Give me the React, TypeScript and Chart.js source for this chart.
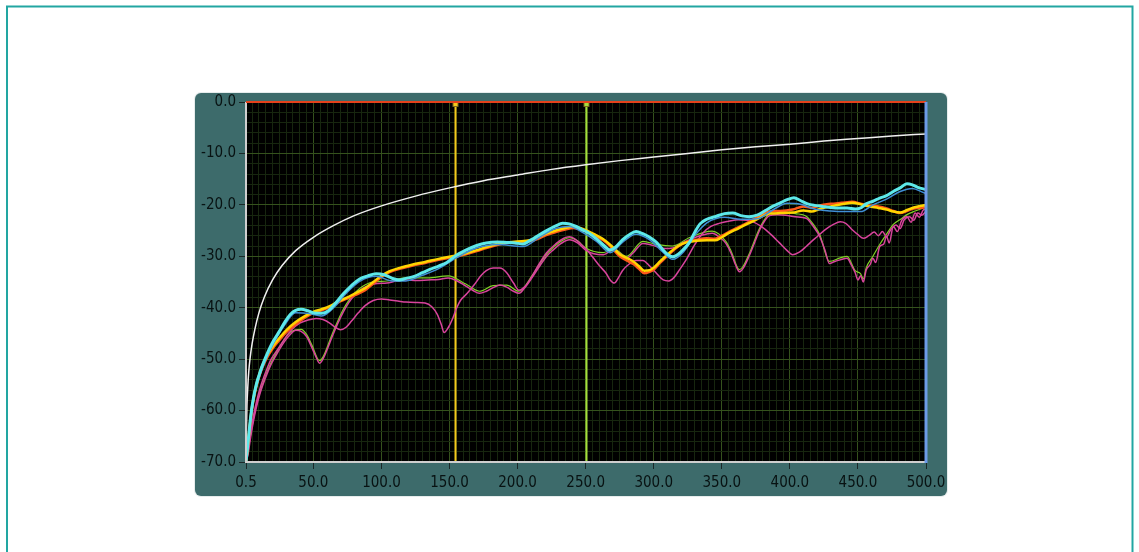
import { useEffect, useRef } from "react";
import { Chart, registerables } from "chart.js";

Chart.register(...registerables);

type Pt = [number, number];

const X_LABELS = [0.5, 50, 100, 150, 200, 250, 300, 350, 400, 450, 500];
const Y_LABELS = [0, -10, -20, -30, -40, -50, -60, -70];
const X_MIN = 0.5;
const X_MAX = 500;
const Y_MIN = -70;
const Y_MAX = 0;
const X_MINOR_STEP = 5;
const Y_MINOR_STEP = 2;
const CURSOR_YELLOW = 154;
const CURSOR_GREEN = 250;

const whiteTrace: Pt[] = [[0.5,-70],[0.8,-64],[1.2,-59],[1.8,-55.5],[2.5,-52.5],[3.5,-49.8],[5,-47],[7,-44.2],[10,-41],[14,-37.9],[20,-34.6],[27,-31.8],[37,-28.9],[50,-26.3],[65,-24],[80,-22.1],[100,-20.2],[125,-18.3],[150,-16.7],[175,-15.3],[200,-14.2],[225,-13.1],[250,-12.2],[275,-11.4],[300,-10.7],[325,-10],[350,-9.3],[375,-8.7],[400,-8.2],[425,-7.6],[450,-7.1],[475,-6.6],[500,-6.2]];

const cyanTrace: Pt[] = [[0.5,-70],[1.5,-67.5],[3,-63.5],[4.5,-60],[6,-57.5],[8,-55],[10,-53.2],[12,-51.6],[15,-49.6],[18,-47.8],[21,-46.3],[25,-44.6],[29,-42.8],[33,-41.3],[37,-40.5],[41,-40.3],[46,-40.6],[50,-41],[56,-41.1],[61,-40.6],[66,-39.2],[72,-37.3],[78,-35.7],[84,-34.4],[90,-33.8],[96,-33.4],[102,-33.6],[108,-34.3],[113,-34.6],[118,-34.3],[124,-33.9],[130,-33.2],[136,-32.5],[142,-31.9],[148,-31.2],[155,-29.8],[162,-28.8],[170,-27.9],[177,-27.4],[185,-27.2],[192,-27.3],[198,-27.4],[204,-27.6],[210,-26.8],[216,-25.8],[222,-24.9],[228,-24.1],[233,-23.6],[238,-23.7],[243,-24.2],[248,-24.9],[253,-25.6],[258,-26.6],[263,-27.8],[268,-28.8],[272,-28.2],[277,-26.8],[282,-25.8],[287,-25.2],[292,-25.6],[297,-26.3],[302,-27.3],[306,-28.5],[310,-29.6],[314,-30.1],[318,-29.6],[322,-28.6],[326,-27.4],[330,-25.4],[334,-23.7],[339,-22.8],[345,-22.3],[352,-21.7],[358,-21.6],[364,-22.1],[370,-22.3],[376,-22],[382,-21.1],[388,-20.2],[393,-19.6],[398,-19],[403,-18.6],[408,-19.2],[413,-19.8],[418,-20.1],[424,-20.3],[430,-20.5],[436,-20.6],[442,-20.6],[448,-20.8],[452,-20.6],[456,-19.8],[461,-19.3],[466,-18.7],[471,-18.2],[476,-17.4],[481,-16.7],[486,-15.9],[490,-16.1],[494,-16.6],[498,-16.9],[500,-17]];

const blueTrace: Pt[] = [[0.5,-70],[3,-64],[6,-58],[10,-53.7],[15,-50.1],[21,-46.8],[29,-43.3],[37,-41],[46,-41.1],[56,-41.6],[66,-39.7],[72,-37.8],[84,-34.9],[96,-33.9],[108,-34.8],[118,-34.8],[130,-33.7],[142,-32.4],[155,-30.3],[170,-28.4],[185,-27.7],[204,-28.1],[216,-26.3],[228,-24.6],[238,-24.2],[248,-25.4],[258,-27.1],[268,-29.3],[277,-27.3],[287,-25.7],[297,-26.8],[306,-29],[314,-30.6],[322,-29.1],[330,-26],[339,-23.5],[352,-22.4],[364,-22.8],[376,-22.7],[388,-20.9],[398,-19.7],[408,-19.9],[418,-20.8],[430,-21.2],[442,-21.3],[452,-21.3],[461,-20],[471,-18.9],[481,-17.4],[490,-16.8],[498,-17.6],[500,-17.8]];

const orangeTrace: Pt[] = [[0.5,-70],[1.5,-68],[3,-64],[4.5,-60.5],[6,-58],[8,-55.5],[10,-53.6],[12,-52],[15,-50.2],[18,-48.8],[21,-47.6],[25,-46.3],[30,-44.8],[37,-43.2],[44,-41.9],[50,-41],[56,-40.5],[62,-39.9],[68,-39],[74,-38.3],[80,-37.6],[88,-36.6],[94,-35.3],[100,-34],[106,-33.1],[114,-32.4],[123,-31.8],[132,-31.3],[142,-30.7],[152,-30.2],[162,-29.6],[170,-29],[177,-28.4],[185,-27.8],[192,-27.4],[200,-27.2],[209,-27.1],[215,-26.6],[221,-25.9],[228,-25.3],[235,-24.8],[241,-24.5],[246,-24.8],[251,-25.2],[257,-26],[263,-26.9],[269,-28.3],[275,-30],[280,-30.8],[285,-31.5],[289,-32.4],[293,-33.3],[297,-33],[300,-32.6],[305,-31.2],[312,-29.4],[318,-28.1],[324,-27.2],[331,-26.8],[339,-26.5],[345,-26.6],[350,-26],[355,-25.3],[362,-24.4],[368,-23.6],[375,-22.6],[385,-21.3],[393,-21.2],[402,-20.9],[410,-20.3],[416,-20.6],[422,-20.1],[430,-19.8],[438,-19.6],[446,-19.4],[452,-19.8],[458,-20.1],[465,-20.3],[471,-20.7],[476,-21.2],[481,-21.6],[486,-21.2],[491,-20.7],[496,-20.6],[500,-20.4]];

const yellowTrace: Pt[] = [[0.5,-70],[1.5,-67.6],[3,-63.6],[4.5,-60.1],[6,-57.6],[8,-55.1],[10,-53.2],[12,-51.6],[15,-49.8],[18,-48.4],[21,-47.2],[25,-45.9],[30,-44.4],[37,-42.8],[44,-41.6],[50,-40.8],[56,-40.3],[62,-39.7],[68,-38.8],[74,-38.1],[80,-37.3],[88,-36.2],[94,-35],[100,-33.8],[106,-32.9],[114,-32.2],[123,-31.6],[132,-31.1],[142,-30.5],[152,-30],[162,-29.4],[170,-28.8],[177,-28.2],[185,-27.6],[192,-27.3],[200,-27.1],[209,-26.9],[215,-26.3],[221,-25.6],[228,-25],[235,-24.5],[241,-24.2],[246,-24.5],[251,-25],[257,-25.8],[263,-26.7],[269,-28],[275,-29.6],[280,-30.3],[285,-31],[289,-31.9],[293,-32.8],[297,-32.7],[300,-32.2],[305,-30.9],[312,-29.2],[318,-28],[324,-27.3],[331,-27],[339,-26.9],[345,-26.9],[350,-26.3],[355,-25.5],[362,-24.6],[368,-23.8],[375,-22.9],[385,-21.7],[393,-21.6],[402,-21.5],[410,-21.1],[416,-21.3],[422,-20.8],[430,-20.3],[438,-19.9],[446,-19.6],[452,-19.9],[458,-20.3],[465,-20.6],[471,-20.9],[476,-21.3],[481,-21.5],[486,-21],[491,-20.5],[496,-20.2],[500,-20]];

const magentaATrace: Pt[] = [[0.5,-70],[2,-68],[4,-64],[6,-61],[8,-58.5],[11,-55.5],[15,-52.5],[19,-50],[24,-48],[29,-46],[34,-44.3],[40,-43],[46,-42.4],[52,-42.1],[57,-42.3],[62,-43],[66,-43.8],[70,-44.3],[74,-43.8],[78,-42.6],[83,-41],[88,-39.6],[94,-38.6],[100,-38.3],[106,-38.5],[112,-38.7],[118,-38.9],[125,-39],[132,-39.1],[137,-39.8],[141,-41.3],[144,-43.3],[146,-44.8],[149,-43.9],[152,-42.3],[155,-40.2],[158,-38.6],[163,-37.2],[168,-35.6],[173,-33.8],[177,-32.8],[182,-32.3],[187,-32.3],[192,-33.2],[197,-35.2],[201,-36.6],[205,-36],[209,-34.6],[214,-32.3],[221,-29.4],[228,-27.6],[234,-26.5],[238,-26.2],[242,-26.6],[246,-27.5],[251,-28.8],[255,-30.1],[260,-31.8],[265,-33.3],[268,-34.6],[271,-35.2],[274,-34.2],[277,-32.8],[282,-31.5],[287,-30.8],[292,-30.8],[297,-31.9],[302,-33.3],[307,-34.6],[311,-34.8],[315,-34.1],[319,-32.6],[324,-30.6],[330,-27.8],[336,-25.5],[342,-24.2],[348,-23.6],[355,-23.2],[362,-22.9],[368,-23],[373,-23.3],[379,-24.2],[385,-25.5],[392,-27.3],[398,-28.9],[402,-29.7],[407,-29.2],[412,-28.1],[416,-27.1],[420,-26.2],[426,-24.8],[432,-23.8],[437,-23.3],[441,-23.6],[446,-24.9],[450,-25.8],[454,-26.5],[458,-26],[462,-25.3],[465,-26],[468,-25.2],[471,-26.2],[474,-24.9],[478,-23.9],[481,-24.6],[484,-22.9],[488,-22.3],[491,-23],[494,-21.6],[497,-22],[500,-21.2]];

const magentaBTrace: Pt[] = [[0.5,-70],[2,-68.5],[4,-65],[6,-62],[8,-59.5],[11,-56.5],[15,-53.5],[19,-51],[24,-48.6],[29,-46.5],[33,-45.2],[37,-44.4],[41,-44.6],[45,-45.6],[49,-47.8],[52,-49.6],[54.5,-50.8],[57,-50],[60,-48.2],[64,-45.5],[68,-43],[72,-40.8],[76,-39],[81,-37.4],[86,-36.3],[91,-35.6],[97,-35.3],[104,-35.2],[111,-34.8],[118,-34.6],[126,-34.7],[134,-34.6],[142,-34.5],[149,-34.2],[155,-34.7],[162,-35.8],[167,-36.6],[172,-37.2],[177,-36.8],[182,-36.1],[187,-35.6],[192,-36],[197,-36.8],[201,-37.2],[205,-36.2],[211,-34],[217,-31.6],[222,-29.8],[226,-28.8],[232,-27.5],[238,-26.8],[244,-27.4],[250,-28.8],[256,-29.5],[263,-29.7],[270,-28.8],[275,-29.4],[280,-30.4],[285,-29.3],[292,-27.5],[297,-27.7],[302,-28.1],[308,-28.5],[314,-28.4],[320,-27.6],[326,-26.8],[334,-26],[343,-25.5],[348,-26.2],[353,-27.5],[357,-29.5],[360,-31.6],[363,-33],[366,-32.2],[370,-30],[374,-27.4],[378,-24.8],[382,-22.9],[385,-22.1],[391,-21.9],[397,-22],[404,-22.3],[412,-22.6],[417,-24.1],[422,-26.2],[426,-29],[429,-31.4],[433,-31],[437,-30.7],[442,-30.4],[445,-31.6],[448,-33.2],[450,-34.6],[452,-33.8],[454,-35],[456,-32.7],[459,-31.6],[461,-30.4],[463,-31.2],[466,-28.1],[469,-27.6],[471,-26.1],[473,-27.4],[476,-24.2],[479,-25.2],[482,-23.1],[486,-22.3],[489,-23.4],[492,-21.6],[495,-22.4],[498,-21],[500,-20.8]];

const greenTrace: Pt[] = [[0.5,-70],[4,-64.6],[8,-59.1],[15,-53.1],[24,-48.2],[33,-44.8],[41,-44.2],[45,-45.2],[49,-47.3],[54.5,-50.3],[57,-49.6],[64,-45],[72,-40.3],[81,-37],[91,-35.2],[104,-34.8],[118,-34.2],[134,-34.2],[149,-33.8],[162,-35.4],[172,-36.8],[182,-35.7],[192,-35.6],[201,-36.8],[211,-33.6],[222,-29.4],[232,-27.1],[238,-26.4],[244,-27],[250,-28.4],[263,-29.3],[270,-28.4],[280,-30],[292,-27.1],[302,-27.7],[314,-28],[326,-26.4],[343,-25.1],[353,-27.1],[357,-29.1],[363,-32.6],[366,-31.8],[370,-29.6],[378,-24.4],[385,-21.7],[391,-21.2],[397,-21.4],[404,-21.7],[412,-22.2],[417,-23.7],[422,-25.8],[429,-31],[437,-30.3],[442,-30],[448,-32.8],[452,-33.4],[454,-34.4],[456,-32.3],[461,-30],[466,-27.7],[471,-25.7],[476,-23.8],[482,-22.7],[486,-21.9],[492,-21.2],[498,-20.6],[500,-20.4]];

const MAJOR_GRID = "#35521d";
const MINOR_GRID = "#17260f";
const LABEL_COLOR = "#081212";
const FONT = { family: "'DejaVu Sans Condensed', 'Liberation Sans', sans-serif", size: 15 };

const toXY = (pts: Pt[]) => pts.map(([x, y]) => ({ x, y }));

const isXLabel = (v: number) => X_LABELS.includes(v);
const isYLabel = (v: number) => Y_LABELS.includes(v);

const framePlugin = {
  id: "labviewFrame",
  beforeDraw(chart: any) {
    const { ctx, chartArea } = chart;
    ctx.save();
    ctx.fillStyle = "#ffffff";
    ctx.fillRect(0, 0, chart.width, chart.height);
    ctx.strokeStyle = "#22a6a2";
    ctx.lineWidth = 2;
    ctx.strokeRect(7, 6.5, 1125.5, 600);
    ctx.fillStyle = "#e6ecec";
    ctx.beginPath();
    ctx.roundRect(194, 92, 754, 405, 7);
    ctx.fill();
    ctx.fillStyle = "#3d6b6b";
    ctx.beginPath();
    ctx.roundRect(195, 93, 752, 403, 6);
    ctx.fill();
    ctx.fillStyle = "#000000";
    ctx.fillRect(chartArea.left, chartArea.top, chartArea.right - chartArea.left, chartArea.bottom - chartArea.top);
    ctx.restore();
  },
  beforeDatasetsDraw(chart: any) {
    const { ctx, chartArea, scales } = chart;
    ctx.save();
    const cursors: [number, string][] = [
      [CURSOR_YELLOW, "#f4c81c"],
      [CURSOR_GREEN, "#a4de3c"],
    ];
    for (const [v, col] of cursors) {
      const px = Math.round(scales.x.getPixelForValue(v)) + 0.5;
      ctx.strokeStyle = col;
      ctx.lineWidth = 2;
      ctx.beginPath();
      ctx.moveTo(px, chartArea.top);
      ctx.lineTo(px, chartArea.bottom);
      ctx.stroke();
      ctx.fillStyle = "#7a6a20";
      ctx.fillRect(px - 3, chartArea.top, 6, 5);
      ctx.fillStyle = col;
      ctx.fillRect(px - 2, chartArea.top + 1, 4, 3);
    }
    ctx.restore();
  },
  afterDatasetsDraw(chart: any) {
    const { ctx, chartArea } = chart;
    const { left, right, top, bottom } = chartArea;
    ctx.save();
    ctx.lineWidth = 2;
    ctx.strokeStyle = "#cfcfcf";
    ctx.beginPath();
    ctx.moveTo(left, top);
    ctx.lineTo(left, bottom);
    ctx.lineTo(right, bottom);
    ctx.stroke();
    ctx.strokeStyle = "#e4421c";
    ctx.beginPath();
    ctx.moveTo(left, top);
    ctx.lineTo(right, top);
    ctx.stroke();
    ctx.strokeStyle = "#6c9ae8";
    ctx.lineWidth = 3;
    ctx.beginPath();
    ctx.moveTo(right, top);
    ctx.lineTo(right, bottom + 1);
    ctx.stroke();
    ctx.restore();
  },
};

export default function App() {
  const ref = useRef<HTMLCanvasElement | null>(null);

  useEffect(() => {
    if (!ref.current) return;
    const line = (label: string, pts: Pt[], color: string, width: number) => ({
      label,
      data: toXY(pts),
      borderColor: color,
      backgroundColor: color,
      borderWidth: width,
      pointRadius: 0,
      fill: false,
      cubicInterpolationMode: "monotone" as const,
    });

    const chart = new Chart(ref.current, {
      type: "line",
      data: {
        datasets: [
          line("Cyan", cyanTrace, "#5de8ea", 3),
          line("Blue", blueTrace, "#3f8fd6", 1.5),
          line("Yellow", yellowTrace, "#ffd400", 2.5),
          line("Orange", orangeTrace, "#ff5a1a", 2.5),
          line("Magenta A", magentaATrace, "#d8449c", 1.5),
          line("Magenta B", magentaBTrace, "#d8449c", 1.5),
          line("Green", greenTrace, "#7fd026", 1.2),
          line("White", whiteTrace, "#f0f0f0", 1.5),
        ],
      },
      plugins: [framePlugin],
      options: {
        responsive: false,
        animation: false,
        events: [],
        layout: { padding: { left: 196, right: 213, top: 102, bottom: 56 } },
        plugins: { legend: { display: false }, tooltip: { enabled: false } },
        scales: {
          x: {
            type: "linear",
            min: X_MIN,
            max: X_MAX,
            afterBuildTicks: (s: any) => {
              const t = [{ value: X_MIN }];
              for (let v = X_MINOR_STEP; v <= X_MAX; v += X_MINOR_STEP) t.push({ value: v });
              s.ticks = t;
            },
            afterFit: (s: any) => {
              s.height = 34;
            },
            border: { display: false },
            grid: {
              color: (c: any) => (c.tick && isXLabel(c.tick.value) ? MAJOR_GRID : MINOR_GRID),
              lineWidth: 1,
              drawTicks: true,
              tickLength: 7,
              tickColor: (c: any) => (c.tick && isXLabel(c.tick.value) ? "#1a2828" : "rgba(0,0,0,0)"),
            },
            ticks: {
              autoSkip: false,
              maxRotation: 0,
              minRotation: 0,
              padding: 5,
              color: LABEL_COLOR,
              font: FONT,
              callback: (v: any) => (isXLabel(Number(v)) ? Number(v).toFixed(1) : ""),
            },
          },
          y: {
            type: "linear",
            min: Y_MIN,
            max: Y_MAX,
            afterBuildTicks: (s: any) => {
              const t = [];
              for (let v = Y_MIN; v <= Y_MAX; v += Y_MINOR_STEP) t.push({ value: v });
              s.ticks = t;
            },
            afterFit: (s: any) => {
              s.width = 50;
            },
            border: { display: false },
            grid: {
              color: (c: any) => (c.tick && isYLabel(c.tick.value) ? MAJOR_GRID : MINOR_GRID),
              lineWidth: 1,
              drawTicks: true,
              tickLength: 7,
              tickColor: (c: any) => (c.tick && isYLabel(c.tick.value) ? "#1a2828" : "rgba(0,0,0,0)"),
            },
            ticks: {
              autoSkip: false,
              padding: 3,
              color: LABEL_COLOR,
              font: FONT,
              callback: (v: any) => (isYLabel(Number(v)) ? Number(v).toFixed(1) : ""),
            },
          },
        },
      },
    });
    return () => chart.destroy();
  }, []);

  return (
    <canvas
      ref={ref}
      width={1139}
      height={552}
      style={{ position: "fixed", left: 0, top: 0, width: 1139, height: 552 }}
    />
  );
}
